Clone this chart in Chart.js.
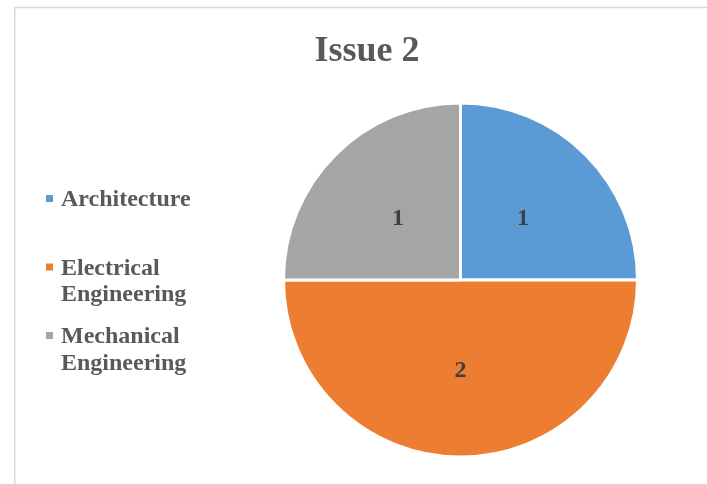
<!DOCTYPE html>
<html>
<head>
<meta charset="utf-8">
<title>Issue 2</title>
<script src="https://cdn.jsdelivr.net/npm/chart.js@4/dist/chart.umd.min.js"></script>
<style>
  html, body { margin: 0; padding: 0; background: #ffffff; }
  #wrap { width: 707px; height: 484px; position: relative; }
</style>
</head>
<body>
<div id="wrap"><canvas id="chart" width="707" height="484"></canvas></div>
<script>
// Chart content
const chartTitle = 'Issue 2';
const categories = ['Architecture', 'Electrical Engineering', 'Mechanical Engineering'];
const counts = [1, 2, 1];

// Styling
const sliceColors = ['#5B9BD5', '#ED7D31', '#A5A5A5'];
const textColor = '#595959';
const valueColor = '#404040';
const serif = "'Liberation Serif', 'Times New Roman', serif";

// Wrap a label into lines no wider than maxWidth
function wrapText(ctx, text, maxWidth) {
  const words = text.split(' ');
  const lines = [];
  let line = '';
  for (const w of words) {
    const test = line ? line + ' ' + w : w;
    if (line && ctx.measureText(test).width > maxWidth) {
      lines.push(line);
      line = w;
    } else {
      line = test;
    }
  }
  if (line) lines.push(line);
  return lines;
}

// Frame, title, side legend and slice value labels
const decorations = {
  id: 'decorations',
  beforeDraw(chart) {
    const ctx = chart.ctx;
    ctx.save();
    ctx.fillStyle = '#ffffff';
    ctx.fillRect(0, 0, chart.width, chart.height);
    ctx.strokeStyle = '#D9D9D9';
    ctx.lineWidth = 1.5;
    ctx.strokeRect(14.75, 7.5, 900, 700);
    ctx.restore();
  },
  afterDraw(chart) {
    const ctx = chart.ctx;
    ctx.save();

    // Title
    ctx.font = 'bold 36px ' + serif;
    ctx.fillStyle = textColor;
    ctx.textAlign = 'center';
    ctx.textBaseline = 'alphabetic';
    ctx.fillText(chartTitle, 367, 61);

    // Legend
    ctx.font = 'bold 24px ' + serif;
    ctx.textAlign = 'left';
    const labels = chart.data.labels;
    const colors = chart.data.datasets[0].backgroundColor;
    labels.forEach((label, i) => {
      const baseY = 206 + i * 68.5;
      ctx.fillStyle = colors[i];
      ctx.fillRect(46, baseY - 11, 7, 7);
      ctx.fillStyle = textColor;
      wrapText(ctx, label, 140).forEach((ln, j) => {
        ctx.fillText(ln, 61, baseY + j * 26.5);
      });
    });

    // Values on slices
    const meta = chart.getDatasetMeta(0);
    const values = chart.data.datasets[0].data;
    ctx.font = 'bold 24px ' + serif;
    ctx.fillStyle = valueColor;
    ctx.textAlign = 'center';
    meta.data.forEach((arc, i) => {
      const p = arc.tooltipPosition();
      ctx.fillText(String(values[i]), p.x, p.y + 8);
    });

    ctx.restore();
  }
};

new Chart(document.getElementById('chart'), {
  type: 'pie',
  data: {
    labels: categories,
    datasets: [{
      data: counts,
      backgroundColor: sliceColors,
      borderColor: '#ffffff',
      borderWidth: 3
    }]
  },
  options: {
    responsive: false,
    devicePixelRatio: 1,
    animation: false,
    radius: 177,
    layout: { padding: { left: 250, right: 36, top: 90, bottom: 14 } },
    plugins: {
      legend: { display: false },
      title: { display: false },
      tooltip: { enabled: false }
    }
  },
  plugins: [decorations]
});
</script>
</body>
</html>
